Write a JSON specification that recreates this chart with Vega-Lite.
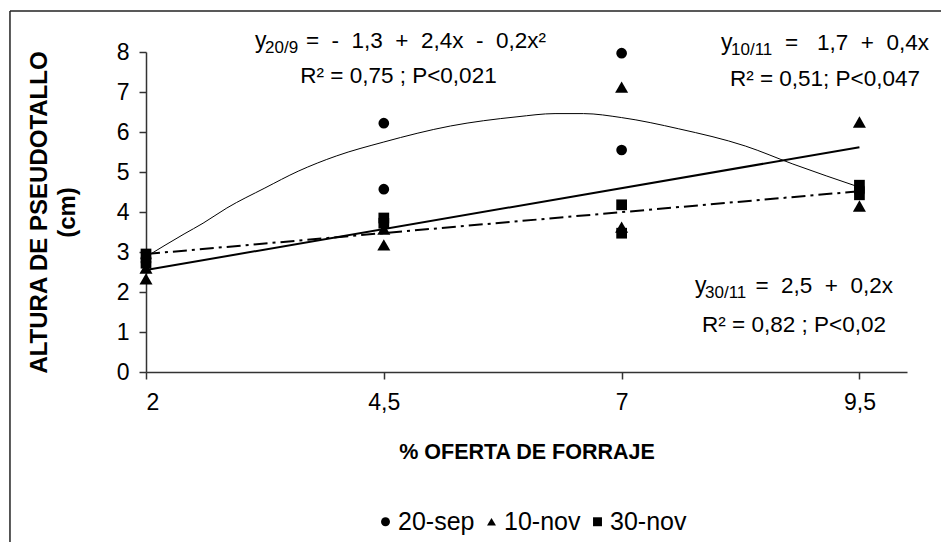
{
  "$schema": "https://vega.github.io/schema/vega-lite/v6.json",
  "width": 761,
  "height": 320,
  "autosize": {"type": "none"},
  "padding": {"left": 146, "top": 52, "right": 34, "bottom": 170},
  "background": "white",
  "config": {
    "view": {"stroke": null},
    "font": "Liberation Sans",
    "axis": {"grid": false, "domainColor": "#333333", "tickColor": "#333333", "domainWidth": 1.5, "tickWidth": 1.5, "tickSize": 7, "labelColor": "black", "titleColor": "black", "labelFont": "Liberation Sans", "titleFont": "Liberation Sans", "labelFontSize": 23, "labelFontWeight": "normal", "titleFontWeight": "bold", "labelOverlap": false}
  },
  "datasets": {
    "obs": [
      {"fecha": "20-sep", "oferta": 2, "altura": 2.85},
      {"fecha": "20-sep", "oferta": 2, "altura": 2.75},
      {"fecha": "20-sep", "oferta": 4.5, "altura": 6.22},
      {"fecha": "20-sep", "oferta": 4.5, "altura": 4.57},
      {"fecha": "20-sep", "oferta": 7, "altura": 7.97},
      {"fecha": "20-sep", "oferta": 7, "altura": 5.55},
      {"fecha": "20-sep", "oferta": 9.5, "altura": 4.6},
      {"fecha": "20-sep", "oferta": 9.5, "altura": 4.5},
      {"fecha": "10-nov", "oferta": 2, "altura": 2.33},
      {"fecha": "10-nov", "oferta": 2, "altura": 2.6},
      {"fecha": "10-nov", "oferta": 4.5, "altura": 3.18},
      {"fecha": "10-nov", "oferta": 4.5, "altura": 3.57},
      {"fecha": "10-nov", "oferta": 7, "altura": 7.12},
      {"fecha": "10-nov", "oferta": 7, "altura": 3.62},
      {"fecha": "10-nov", "oferta": 9.5, "altura": 6.25},
      {"fecha": "10-nov", "oferta": 9.5, "altura": 4.15},
      {"fecha": "30-nov", "oferta": 2, "altura": 2.95},
      {"fecha": "30-nov", "oferta": 2, "altura": 2.72},
      {"fecha": "30-nov", "oferta": 4.5, "altura": 3.85},
      {"fecha": "30-nov", "oferta": 4.5, "altura": 3.72},
      {"fecha": "30-nov", "oferta": 7, "altura": 4.18},
      {"fecha": "30-nov", "oferta": 7, "altura": 3.47},
      {"fecha": "30-nov", "oferta": 9.5, "altura": 4.67},
      {"fecha": "30-nov", "oferta": 9.5, "altura": 4.43}
    ],
    "fit": [
      {"fecha": "10-nov", "oferta": 2, "altura": 2.55},
      {"fecha": "10-nov", "oferta": 9.5, "altura": 5.62},
      {"fecha": "30-nov", "oferta": 2, "altura": 2.95},
      {"fecha": "30-nov", "oferta": 9.5, "altura": 4.52},
      {"fecha": "20-sep", "oferta": 2.0, "altura": 2.88},
      {"fecha": "20-sep", "oferta": 2.4, "altura": 3.45},
      {"fecha": "20-sep", "oferta": 2.6, "altura": 3.72},
      {"fecha": "20-sep", "oferta": 2.85, "altura": 4.1},
      {"fecha": "20-sep", "oferta": 3.25, "altura": 4.6},
      {"fecha": "20-sep", "oferta": 3.6, "altura": 5.02},
      {"fecha": "20-sep", "oferta": 4.0, "altura": 5.4},
      {"fecha": "20-sep", "oferta": 4.5, "altura": 5.75},
      {"fecha": "20-sep", "oferta": 5.2, "altura": 6.15},
      {"fecha": "20-sep", "oferta": 5.9, "altura": 6.38},
      {"fecha": "20-sep", "oferta": 6.3, "altura": 6.46},
      {"fecha": "20-sep", "oferta": 6.6, "altura": 6.46},
      {"fecha": "20-sep", "oferta": 7.0, "altura": 6.36},
      {"fecha": "20-sep", "oferta": 7.6, "altura": 6.08},
      {"fecha": "20-sep", "oferta": 8.3, "altura": 5.65},
      {"fecha": "20-sep", "oferta": 8.8, "altura": 5.2},
      {"fecha": "20-sep", "oferta": 9.5, "altura": 4.62}
    ],
    "eqs": [
      {"x": 3.146, "xs": 3.251, "xm": 6.205, "y": 8.1, "ys": 7.975, "y_txt": "y", "sub": "20/9", "main": "= \u00a0- \u00a01,3 \u00a0+ \u00a02,4x \u00a0- \u00a00,2x²", "xr": 4.654, "yr": 7.225, "r2": "R² = 0,75 ; P<0,021"},
      {"x": 8.045, "xs": 8.15, "xm": 10.231, "y": 8.05, "ys": 7.925, "y_txt": "y", "sub": "10/11", "main": "= \u00a0\u00a01,7 \u00a0+ \u00a00,4x", "xr": 9.138, "yr": 7.15, "r2": "R² = 0,51; P<0,047"},
      {"x": 7.771, "xs": 7.877, "xm": 9.853, "y": 1.975, "ys": 1.85, "y_txt": "y", "sub": "30/11", "main": "= \u00a02,5 \u00a0+ \u00a00,2x", "xr": 8.812, "yr": 1.0, "r2": "R² = 0,82 ; P<0,02"}
    ]
  },
  "layer": [
    {
      "data": {"name": "obs"},
      "transform": [{"filter": "datum.fecha !== '10-nov'"}],
      "mark": {"type": "point", "filled": true, "color": "black", "opacity": 1, "size": 115},
      "encoding": {
        "x": {
          "field": "oferta", "type": "quantitative",
          "scale": {"domain": [2, 10], "nice": false, "zero": false},
          "axis": {"values": [2, 4.5, 7, 9.5], "format": ".1~f", "labelExpr": "replace(datum.label, '.', ',')", "labelPadding": 12, "title": "% OFERTA DE FORRAJE", "titleFontSize": 21.5, "titlePadding": 27}
        },
        "y": {
          "field": "altura", "type": "quantitative",
          "scale": {"domain": [0, 8], "nice": false, "zero": true},
          "axis": {"values": [0, 1, 2, 3, 4, 5, 6, 7, 8], "tickCount": 9, "format": "d", "labelPadding": 10, "title": ["ALTURA DE PSEUDOTALLO", "(cm)"], "titleFontSize": 24, "titlePadding": 37, "titleLineHeight": 28}
        },
        "shape": {
          "field": "fecha", "type": "nominal",
          "scale": {"domain": ["20-sep", "10-nov", "30-nov"], "range": ["circle", "triangle-up", "square"]},
          "legend": {"title": null, "orient": "none", "legendX": 227, "legendY": 457, "direction": "horizontal", "labelFontSize": 25, "labelFont": "Liberation Sans", "labelColor": "black", "symbolFillColor": "black", "symbolStrokeWidth": 0, "symbolSize": 80, "labelOffset": 0, "columnPadding": 4}
        }
      }
    },
    {
      "data": {"name": "obs"},
      "transform": [{"filter": "datum.fecha === '10-nov'"}],
      "mark": {"type": "point", "filled": true, "color": "black", "opacity": 1, "size": 170},
      "encoding": {
        "x": {"field": "oferta", "type": "quantitative"},
        "y": {"field": "altura", "type": "quantitative"},
        "shape": {"field": "fecha", "type": "nominal"}
      }
    },
    {
      "data": {"values": [{}]},
      "mark": {"type": "rule", "color": "#222222", "strokeWidth": 1.5, "clip": false},
      "encoding": {
        "x": {"datum": 0.57, "type": "quantitative"},
        "y": {"datum": 9.025, "type": "quantitative"},
        "y2": {"datum": -4.8}
      }
    },
    {
      "data": {"values": [{}]},
      "mark": {"type": "rule", "color": "#222222", "strokeWidth": 1.5, "clip": false},
      "encoding": {
        "x": {"datum": 0.57, "type": "quantitative"},
        "x2": {"datum": 10.6},
        "y": {"datum": 9.025, "type": "quantitative"}
      }
    },
    {
      "data": {"name": "fit"},
      "transform": [{"filter": "datum.fecha === '20-sep'"}],
      "mark": {"type": "line", "color": "black", "strokeWidth": 1, "interpolate": "monotone"},
      "encoding": {
        "x": {"field": "oferta", "type": "quantitative"},
        "y": {"field": "altura", "type": "quantitative"}
      }
    },
    {
      "data": {"name": "fit"},
      "transform": [{"filter": "datum.fecha === '10-nov'"}],
      "mark": {"type": "line", "color": "black", "strokeWidth": 2},
      "encoding": {
        "x": {"field": "oferta", "type": "quantitative"},
        "y": {"field": "altura", "type": "quantitative"}
      }
    },
    {
      "data": {"name": "fit"},
      "transform": [{"filter": "datum.fecha === '30-nov'"}],
      "mark": {"type": "line", "color": "black", "strokeWidth": 2, "strokeDash": [14, 5, 3, 5]},
      "encoding": {
        "x": {"field": "oferta", "type": "quantitative"},
        "y": {"field": "altura", "type": "quantitative"}
      }
    },
    {
      "data": {"name": "eqs"},
      "mark": {"type": "text", "align": "left", "baseline": "alphabetic", "fontSize": 23, "color": "black"},
      "encoding": {
        "x": {"field": "x", "type": "quantitative"},
        "y": {"field": "y", "type": "quantitative"},
        "text": {"field": "y_txt"}
      }
    },
    {
      "data": {"name": "eqs"},
      "mark": {"type": "text", "align": "left", "baseline": "alphabetic", "fontSize": 17, "color": "black"},
      "encoding": {
        "x": {"field": "xs", "type": "quantitative"},
        "y": {"field": "ys", "type": "quantitative"},
        "text": {"field": "sub"}
      }
    },
    {
      "data": {"name": "eqs"},
      "mark": {"type": "text", "align": "right", "baseline": "alphabetic", "fontSize": 22.5, "color": "black"},
      "encoding": {
        "x": {"field": "xm", "type": "quantitative"},
        "y": {"field": "y", "type": "quantitative"},
        "text": {"field": "main"}
      }
    },
    {
      "data": {"name": "eqs"},
      "mark": {"type": "text", "align": "center", "baseline": "alphabetic", "fontSize": 22.5, "color": "black"},
      "encoding": {
        "x": {"field": "xr", "type": "quantitative"},
        "y": {"field": "yr", "type": "quantitative"},
        "text": {"field": "r2"}
      }
    }
  ]
}
